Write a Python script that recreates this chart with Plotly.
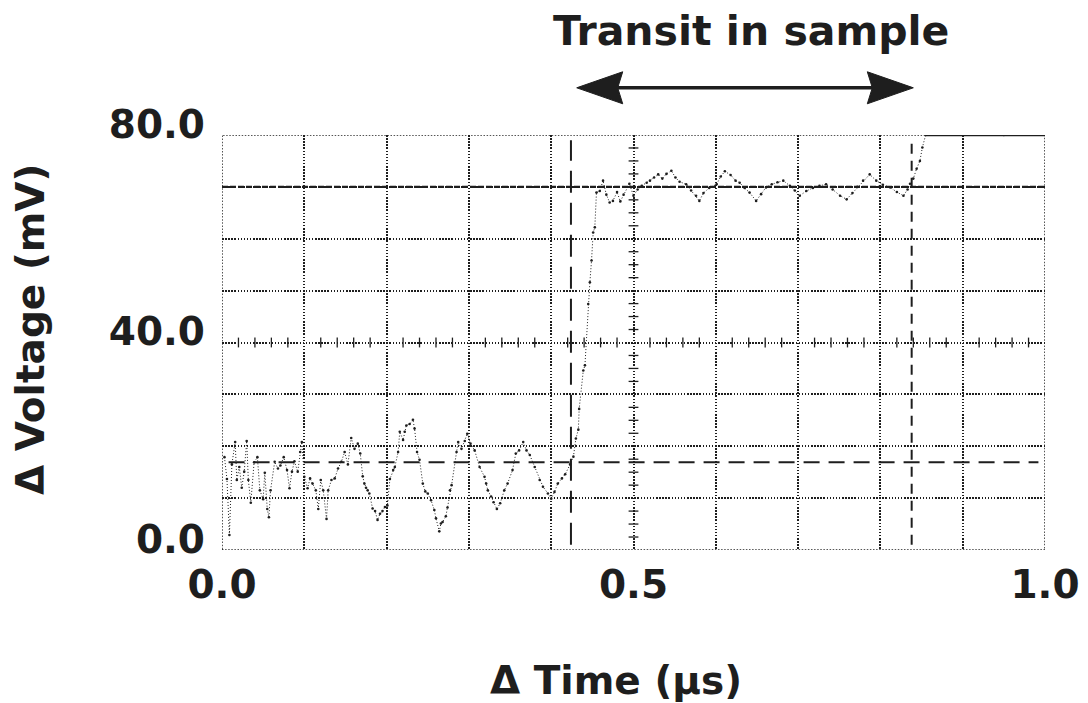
import plotly.graph_objects as go
import numpy as np

# Oscilloscope record: time (µs) and voltage change (mV)
time_us = [
    0.003, 0.006, 0.009, 0.012, 0.016, 0.018, 0.021, 0.024, 0.027, 0.030,
    0.032, 0.035, 0.039, 0.043, 0.046, 0.050, 0.052, 0.055, 0.057, 0.059,
    0.064, 0.068, 0.071, 0.075, 0.079, 0.082, 0.085, 0.088, 0.092, 0.095,
    0.097, 0.100, 0.104, 0.107, 0.110, 0.114, 0.117, 0.120, 0.123, 0.127,
    0.129, 0.133, 0.137, 0.141, 0.145, 0.149, 0.153, 0.157, 0.161, 0.165,
    0.168, 0.171, 0.173, 0.175, 0.177, 0.179, 0.183, 0.186, 0.189, 0.192,
    0.195, 0.198, 0.201, 0.204, 0.208, 0.210, 0.214, 0.216, 0.220, 0.222,
    0.224, 0.228, 0.232, 0.234, 0.237, 0.240, 0.244, 0.247, 0.250, 0.254,
    0.258, 0.260, 0.264, 0.266, 0.268, 0.272, 0.274, 0.277, 0.279, 0.285,
    0.287, 0.291, 0.295, 0.298, 0.302, 0.307, 0.313, 0.319, 0.321, 0.323,
    0.327, 0.330, 0.334, 0.338, 0.343, 0.347, 0.353, 0.357, 0.361, 0.366,
    0.370, 0.374, 0.380, 0.386, 0.390, 0.396, 0.400, 0.404, 0.408, 0.413,
    0.417, 0.423, 0.427, 0.430, 0.433, 0.434, 0.439, 0.441, 0.445, 0.447,
    0.449, 0.451, 0.453, 0.455, 0.459, 0.463, 0.467, 0.471, 0.475, 0.480,
    0.484, 0.488, 0.495, 0.500, 0.505, 0.510, 0.516, 0.520, 0.525, 0.530,
    0.535, 0.540, 0.546, 0.551, 0.556, 0.564, 0.570, 0.576, 0.580, 0.585,
    0.592, 0.601, 0.606, 0.611, 0.618, 0.624, 0.629, 0.635, 0.641, 0.649,
    0.655, 0.661, 0.668, 0.675, 0.682, 0.690, 0.696, 0.702, 0.710, 0.718,
    0.726, 0.734, 0.742, 0.751, 0.759, 0.766, 0.772, 0.779, 0.787, 0.795,
    0.803, 0.812, 0.820, 0.828, 0.833, 0.836, 0.840, 0.844, 0.848, 0.851,
    0.855, 0.900, 0.950, 1.000,
]
voltage_mv = [
    17.9, 13.7, 2.9, 16.5, 20.8, 13.5, 16.0, 12.0, 15.1, 21.0,
    13.5, 9.1, 16.9, 17.9, 11.5, 9.8, 14.9, 7.9, 6.3, 11.5,
    17.0, 15.7, 16.3, 17.9, 15.4, 11.9, 15.1, 17.1, 15.1, 18.9,
    20.8, 14.1, 11.9, 13.8, 12.8, 11.5, 7.9, 13.5, 11.5, 6.0,
    11.5, 13.5, 13.8, 15.7, 17.0, 18.9, 16.5, 21.6, 19.5, 20.5,
    18.6, 14.2, 12.8, 12.0, 11.5, 10.9, 8.0, 7.5, 5.8, 7.0,
    7.5, 8.3, 8.6, 13.7, 15.4, 16.0, 18.9, 22.8, 21.2, 22.8,
    24.0, 24.3, 25.1, 23.4, 18.9, 17.4, 12.8, 11.3, 10.9, 9.6,
    7.7, 6.1, 3.6, 5.1, 5.4, 6.5, 8.2, 11.5, 12.5, 18.9,
    20.8, 19.5, 21.0, 22.4, 20.5, 19.2, 16.0, 14.1, 12.8, 11.5,
    10.3, 9.2, 7.9, 9.0, 11.5, 12.8, 15.4, 18.6, 19.2, 20.8,
    19.2, 18.3, 16.0, 13.5, 12.2, 10.9, 9.9, 11.2, 12.8, 13.8,
    14.6, 16.5, 18.0, 21.5, 23.2, 27.2, 34.6, 35.6, 47.4, 51.6,
    55.8, 61.2, 62.2, 68.9, 69.2, 71.2, 68.5, 67.0, 67.3, 69.0,
    67.2, 68.5, 70.6, 68.3, 69.5, 70.2, 70.8, 71.2, 71.8, 72.4,
    71.6, 72.5, 73.1, 71.8, 71.0, 70.5, 69.3, 68.3, 67.3, 68.8,
    69.8, 70.5, 72.0, 73.0, 72.3, 71.2, 70.8, 69.8, 68.9, 67.3,
    68.6, 69.9, 70.5, 70.9, 71.2, 70.2, 69.3, 68.3, 69.2, 69.8,
    70.2, 70.5, 69.5, 68.3, 67.6, 68.8, 70.0, 71.2, 72.4, 71.2,
    70.4, 69.9, 69.0, 68.3, 69.5, 70.6, 71.6, 73.5, 75.0, 77.6,
    80.0, 80.0, 80.0, 80.0,
]

# Reference levels and cursor positions
baseline_mv = 16.9
plateau_mv = 70.0
transit_start_us = 0.424
transit_end_us = 0.838
arrow_from_us = 0.431
arrow_to_us = 0.840

x_tick_vals = [0.0, 0.5, 1.0]
x_tick_labels = ["0.0", "0.5", "1.0"]
y_tick_vals = [0.0, 40.0, 80.0]
y_tick_labels = ["0.0", "40.0", "80.0"]

X_MIN, X_MAX = 0.0, 1.0
Y_MIN, Y_MAX = 0.0, 80.0

INK = "#1e1e1e"
FONT = "DejaVu Sans"
GRID_DASH = "1.5px,1.6px"

fig = go.Figure()

# Graticule: grid every 0.1 µs and 10 mV
x_grid = np.round(np.arange(X_MIN, X_MAX + 1e-9, 0.1), 2)
y_grid = np.arange(Y_MIN, Y_MAX + 1e-9, 10.0)
x_text = ["<b>%s</b>" % x_tick_labels[x_tick_vals.index(v)] if v in x_tick_vals else ""
          for v in x_grid]
y_text = ["<b>%s</b>" % y_tick_labels[y_tick_vals.index(v)] if v in y_tick_vals else ""
          for v in y_grid]

# Fine division marks on the centre lines of the graticule
x_center = 0.5
y_center = 40.0
fine_x = [v for v in np.round(np.arange(X_MIN, X_MAX + 1e-9, 0.02), 3)
          if abs(v * 10 - round(v * 10)) > 1e-6]
fine_y = [v for v in np.arange(Y_MIN, Y_MAX + 1e-9, 2.5) if v % 10 != 0]

fig.add_trace(go.Scatter(
    x=fine_x, y=[y_center] * len(fine_x), mode="markers",
    marker=dict(symbol="line-ns-open", size=7, color=INK, line=dict(color=INK, width=1.3)),
    hoverinfo="skip", showlegend=False))
fig.add_trace(go.Scatter(
    x=[x_center] * len(fine_y), y=fine_y, mode="markers",
    marker=dict(symbol="line-ew-open", size=7, color=INK, line=dict(color=INK, width=1.3)),
    hoverinfo="skip", showlegend=False))

# Plateau reference level
fig.add_trace(go.Scatter(
    x=[X_MIN, X_MAX], y=[plateau_mv, plateau_mv], mode="lines",
    line=dict(color=INK, width=2.4, dash="6px,2px"),
    hoverinfo="skip", showlegend=False))

# Baseline cursor
fig.add_trace(go.Scatter(
    x=[0.008, X_MAX - 0.008], y=[baseline_mv, baseline_mv], mode="lines",
    line=dict(color=INK, width=2, dash="16px,9px"),
    hoverinfo="skip", showlegend=False))

# Transit cursors
fig.add_trace(go.Scatter(
    x=[transit_start_us, transit_start_us], y=[Y_MIN + 1, Y_MAX - 1], mode="lines",
    line=dict(color=INK, width=2, dash="22px,10px"),
    hoverinfo="skip", showlegend=False))
fig.add_trace(go.Scatter(
    x=[transit_end_us, transit_end_us], y=[Y_MIN + 1, Y_MAX - 1], mode="lines",
    line=dict(color=INK, width=2, dash="10px,7px"),
    hoverinfo="skip", showlegend=False))

# Signal trace (dots) and the saturated part at full scale
fig.add_trace(go.Scatter(
    x=time_us, y=voltage_mv, mode="lines+markers",
    line=dict(color=INK, width=1, dash="1px,2px"),
    marker=dict(color=INK, size=2.6),
    hoverinfo="skip", showlegend=False))
sat_t = [t for t, v in zip(time_us, voltage_mv) if v >= Y_MAX]
fig.add_trace(go.Scatter(
    x=sat_t, y=[Y_MAX] * len(sat_t), mode="lines",
    line=dict(color=INK, width=2.6),
    hoverinfo="skip", showlegend=False, cliponaxis=False))

# Dotted frame
fig.add_shape(type="rect", xref="x", yref="y", x0=X_MIN, x1=X_MAX, y0=Y_MIN, y1=Y_MAX,
              line=dict(color=INK, width=1.5, dash=GRID_DASH), layer="below")

# Transit arrow above the plot
arrow_y = 89.1 / (Y_MAX - Y_MIN)
fig.add_shape(type="line", xref="x", yref="paper", x0=arrow_from_us + 0.03,
              x1=arrow_to_us - 0.03, y0=arrow_y, y1=arrow_y,
              line=dict(color=INK, width=3.5))
fig.add_shape(type="path", xref="x", yref="paper", xsizemode="pixel", ysizemode="pixel",
              xanchor=arrow_from_us, yanchor=arrow_y,
              path="M0,0 L46,16 L41,0 L46,-16 Z",
              fillcolor=INK, line=dict(color=INK, width=1))
fig.add_shape(type="path", xref="x", yref="paper", xsizemode="pixel", ysizemode="pixel",
              xanchor=arrow_to_us, yanchor=arrow_y,
              path="M0,0 L-46,16 L-41,0 L-46,-16 Z",
              fillcolor=INK, line=dict(color=INK, width=1))

fig.add_annotation(text="<b>Transit in sample</b>", xref="paper", yref="paper",
                   x=0, y=1, xshift=529, yshift=104, xanchor="center", yanchor="middle",
                   showarrow=False, font=dict(family=FONT, size=41, color=INK))
fig.add_annotation(text="<b>Δ Time (µs)</b>", xref="paper", yref="paper",
                   x=0, y=0, xshift=394, yshift=-130, xanchor="center", yanchor="middle",
                   showarrow=False, font=dict(family=FONT, size=39, color=INK))
fig.add_annotation(text="<b>Δ Voltage (mV)</b>", xref="paper", yref="paper",
                   x=0, y=0, xshift=-192, yshift=220, xanchor="center", yanchor="middle",
                   textangle=-90, showarrow=False, font=dict(family=FONT, size=39, color=INK))

fig.update_xaxes(range=[X_MIN, X_MAX], tickvals=x_grid, ticktext=x_text,
                 showgrid=True, gridcolor=INK, gridwidth=1.5, griddash=GRID_DASH,
                 zeroline=False, showline=False, ticks="", automargin=False,
                 tickfont=dict(family=FONT, size=39, color=INK),
                 ticklabelstandoff=8)
fig.update_yaxes(range=[Y_MIN, Y_MAX], tickvals=y_grid, ticktext=y_text,
                 showgrid=True, gridcolor=INK, gridwidth=1.5, griddash=GRID_DASH,
                 zeroline=False, showline=False, ticks="", automargin=False,
                 tickfont=dict(family=FONT, size=39, color=INK),
                 ticklabelstandoff=16, ticklabelshift=-11)

fig.update_layout(
    width=1088, height=703,
    margin=dict(l=222, r=43, t=135, b=153),
    paper_bgcolor="white", plot_bgcolor="white",
    font=dict(family=FONT, color=INK),
)

fig.write_html("out.html")
